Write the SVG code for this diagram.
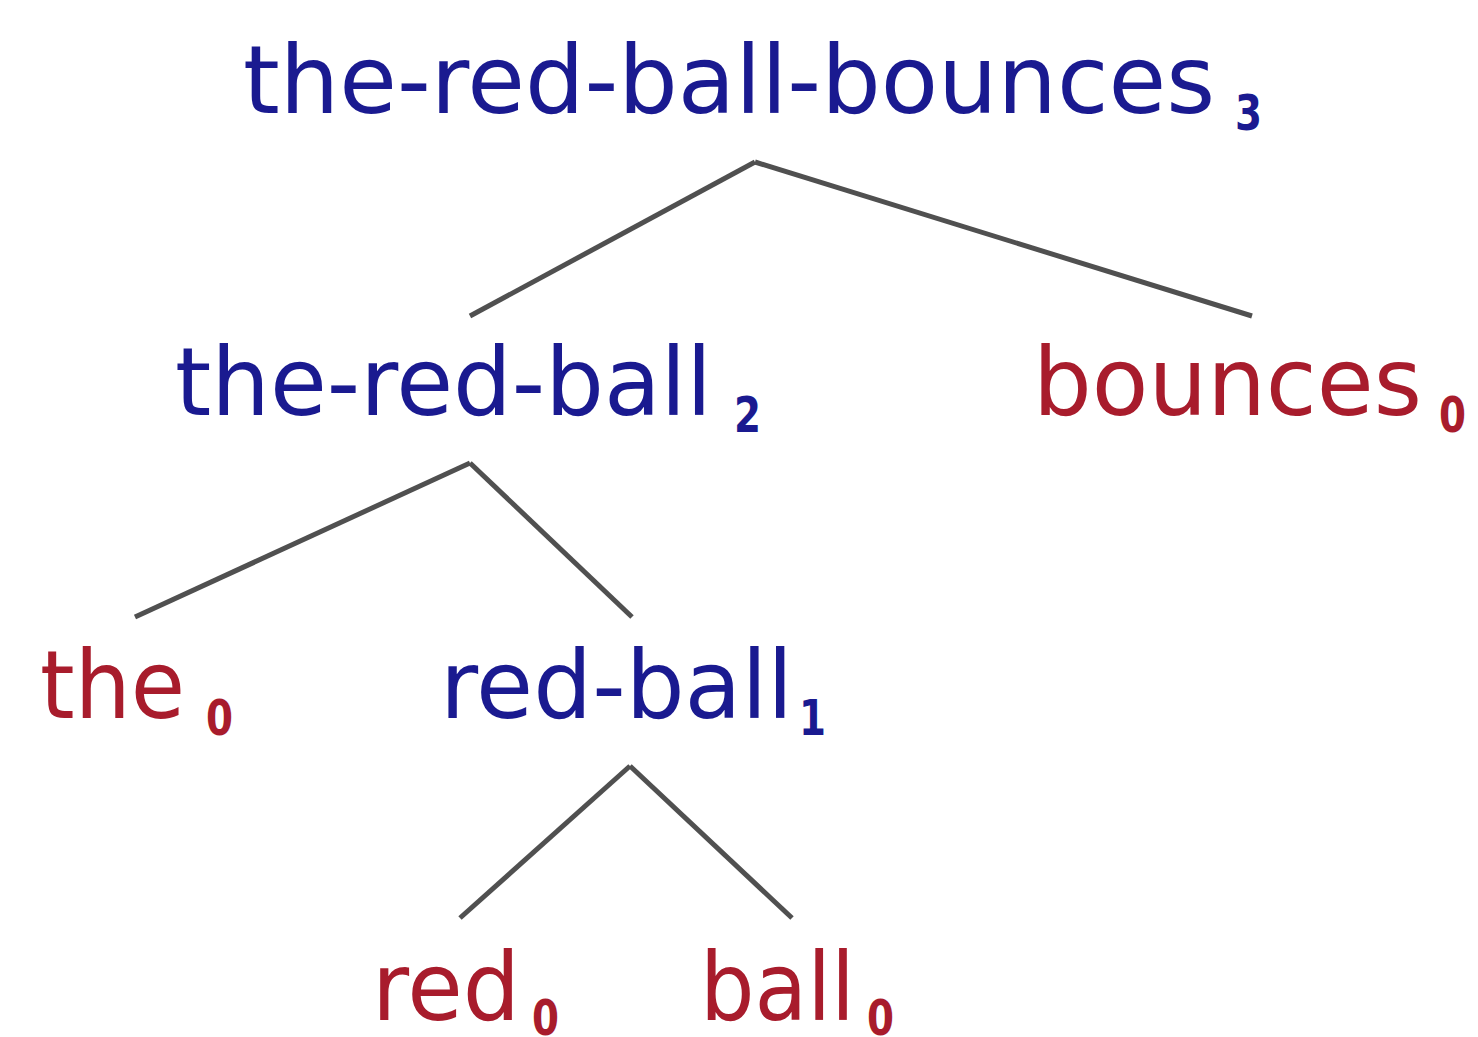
<svg xmlns="http://www.w3.org/2000/svg" width="1478" height="1037" viewBox="0 0 1478 1037">
<style>
.b{fill:#1a1a90}
.r{fill:#a81c2c}
.t{font-family:"DejaVu Sans","Liberation Sans",sans-serif;font-size:95px}
.s{font-family:"DejaVu Sans","Liberation Sans",sans-serif;font-size:50px;font-weight:bold}
.e{stroke:#505050;stroke-width:5;fill:none}
</style>
<rect width="1478" height="1037" fill="#ffffff"/>
<g id="connectors">
<line class="e" x1="755" y1="162" x2="470" y2="316"/>
<line class="e" x1="755" y1="162" x2="1252" y2="316"/>
<line class="e" x1="470" y1="463" x2="135" y2="617"/>
<line class="e" x1="470" y1="463" x2="632" y2="617"/>
<line class="e" x1="630" y1="766" x2="460" y2="918"/>
<line class="e" x1="630" y1="766" x2="792" y2="918"/>
</g>
<g id="n-root">
<text class="t b" x="243" y="113" textLength="972" lengthAdjust="spacingAndGlyphs">the-red-ball-bounces</text>
<text class="s b" x="1235" y="130" textLength="27" lengthAdjust="spacingAndGlyphs">3</text>
</g>
<g id="n-the-red-ball">
<text class="t b" x="175" y="415" textLength="537" lengthAdjust="spacingAndGlyphs">the-red-ball</text>
<text class="s b" x="734" y="432" textLength="27" lengthAdjust="spacingAndGlyphs">2</text>
</g>
<g id="n-bounces">
<text class="t r" x="1033" y="415" textLength="389" lengthAdjust="spacingAndGlyphs">bounces</text>
<text class="s r" x="1439" y="432" textLength="27" lengthAdjust="spacingAndGlyphs">0</text>
</g>
<g id="n-the">
<text class="t r" x="40" y="718" textLength="145" lengthAdjust="spacingAndGlyphs">the</text>
<text class="s r" x="206" y="735" textLength="27" lengthAdjust="spacingAndGlyphs">0</text>
</g>
<g id="n-red-ball">
<text class="t b" x="440" y="718" textLength="353" lengthAdjust="spacingAndGlyphs">red-ball</text>
<text class="s b" x="799" y="735" textLength="27" lengthAdjust="spacingAndGlyphs">1</text>
</g>
<g id="n-red">
<text class="t r" x="372" y="1020" textLength="148" lengthAdjust="spacingAndGlyphs">red</text>
<text class="s r" x="532" y="1035" textLength="27" lengthAdjust="spacingAndGlyphs">0</text>
</g>
<g id="n-ball">
<text class="t r" x="700" y="1020" textLength="155" lengthAdjust="spacingAndGlyphs">ball</text>
<text class="s r" x="867" y="1035" textLength="27" lengthAdjust="spacingAndGlyphs">0</text>
</g>
</svg>
